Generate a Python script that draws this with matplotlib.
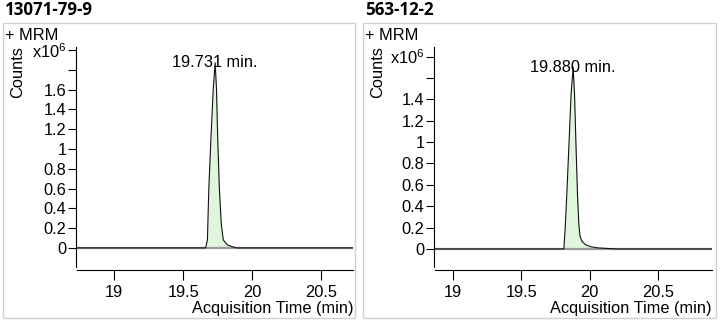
"""
MRM extracted-ion chromatograms for two compounds, side by side.
"""

import matplotlib
matplotlib.use("Agg")  # headless backend
import matplotlib.pyplot as plt
from matplotlib.patches import Rectangle
import numpy as np

# ---- data (counts in units of 1e6) ----
titles = ["13071-79-9", "563-12-2"]
retention_times = [19.731, 19.880]

time_a = [18.70, 19.600, 19.662, 19.675, 19.685, 19.700, 19.717, 19.731, 19.741,
          19.750, 19.762, 19.775, 19.790, 19.820, 19.860, 19.890, 20.000, 20.750]
counts_a = [0.0, 0.0, 0.0, 0.08, 0.59, 1.09, 1.60, 1.87, 1.60,
            1.09, 0.59, 0.25, 0.08, 0.03, 0.01, 0.0, 0.0, 0.0]
fill_a = (19.660, 19.885)

time_b = [18.85, 19.750, 19.812, 19.822, 19.835, 19.850, 19.865, 19.880, 19.890,
          19.900, 19.912, 19.922, 19.930, 19.945, 19.970, 20.010, 20.060, 20.150,
          20.200, 20.900]
counts_b = [0.0, 0.0, 0.0, 0.20, 0.55, 1.00, 1.45, 1.70, 1.45,
            1.00, 0.50, 0.22, 0.12, 0.07, 0.04, 0.02, 0.01, 0.003,
            0.0, 0.0]
fill_b = (19.810, 20.060)

xticks = [19, 19.5, 20, 20.5]
xtick_labels = ["19", "19.5", "20", "20.5"]

yticks_a = [0, 0.2, 0.4, 0.6, 0.8, 1.0, 1.2, 1.4, 1.6, 1.8, 2.0]
ylabels_a = ["0", "0.2", "0.4", "0.6", "0.8", "1", "1.2", "1.4", "1.6", "", "x10$^{6}$"]
yticks_b = [0, 0.2, 0.4, 0.6, 0.8, 1.0, 1.2, 1.4, 1.6, 1.8]
ylabels_b = ["0", "0.2", "0.4", "0.6", "0.8", "1", "1.2", "1.4", "", "x10$^{6}$"]

xlims = [(18.73, 20.73), (18.87, 20.895)]
ylims = [(-0.193, 2.03), (-0.169, 1.889)]

# ---- style ----
W, H = 720, 323
plt.rcParams["font.family"] = ["Liberation Sans", "DejaVu Sans"]
plt.rcParams["mathtext.fontset"] = "custom"
plt.rcParams["mathtext.rm"] = "Liberation Sans"
plt.rcParams["font.size"] = 11.8

FILL = "#dff5dc"
BASE = "#9a9a9a"
BOX = "#d0d0d0"


def fx(px):
    return px / W


def fy(py):
    return 1 - py / H


fig = plt.figure(figsize=(W / 100, H / 100), dpi=100)

panels = [
    dict(box=(3, 355), ax_x=(77, 353), times=time_a, counts=counts_a,
         fill=fill_a, yticks=yticks_a, ylabels=ylabels_a),
    dict(box=(363, 716), ax_x=(435, 712), times=time_b, counts=counts_b,
         fill=fill_b, yticks=yticks_b, ylabels=ylabels_b),
]

for i, p in enumerate(panels):
    bx0, bx1 = p["box"]
    # panel frame
    fig.patches.append(Rectangle((fx(bx0), fy(318)), fx(bx1 - bx0), (318 - 23) / H,
                                 transform=fig.transFigure, fill=False,
                                 edgecolor=BOX, linewidth=1.0))
    fig.text(fx(bx0 + 2), fy(10), titles[i], fontsize=12.2, fontweight="bold",
             family=["Open Sans", "DejaVu Sans"], ha="left", va="center")
    fig.text(fx(bx0 + 2), fy(35), "+ MRM", ha="left", va="center")
    fig.text(fx(bx0 + 15), fy(72), "Counts", rotation=90, ha="center", va="center")

    ax0, ax1 = p["ax_x"]
    ax = fig.add_axes([fx(ax0), fy(267), fx(ax1 - ax0), (267 - 47) / H])

    t = np.array(p["times"])
    c = np.array(p["counts"])
    f0, f1 = p["fill"]
    mask = (t >= f0) & (t <= f1)
    ax.fill_between(t, 0, c, where=mask, color=FILL, linewidth=0, zorder=1)
    ax.axhline(0, color=BASE, linewidth=1.6, zorder=2)
    ax.plot(t, c, color="#111111", linewidth=0.8, zorder=3)

    peak = c.max()
    ax.text(retention_times[i], peak, f"{retention_times[i]:.3f} min.",
            ha="center", va="center", zorder=4)

    ax.set_xlim(*xlims[i])
    ax.set_ylim(*ylims[i])
    ax.set_xticks(xticks)
    ax.set_xticklabels(xtick_labels)
    ax.set_yticks(p["yticks"])
    ax.set_yticklabels(p["ylabels"])

    for side in ["top", "right"]:
        ax.spines[side].set_visible(False)
    ax.spines["left"].set_position(("outward", 1))
    ax.spines["bottom"].set_position(("outward", 2))
    ax.tick_params(axis="y", length=6, width=0.8, pad=0.5)
    ax.tick_params(axis="x", length=7, width=0.8, pad=4)
    ax.set_xlabel("Acquisition Time (min)", loc="right", labelpad=1)
    ax.patch.set_alpha(0)

fig.savefig("out.png", dpi=100)
